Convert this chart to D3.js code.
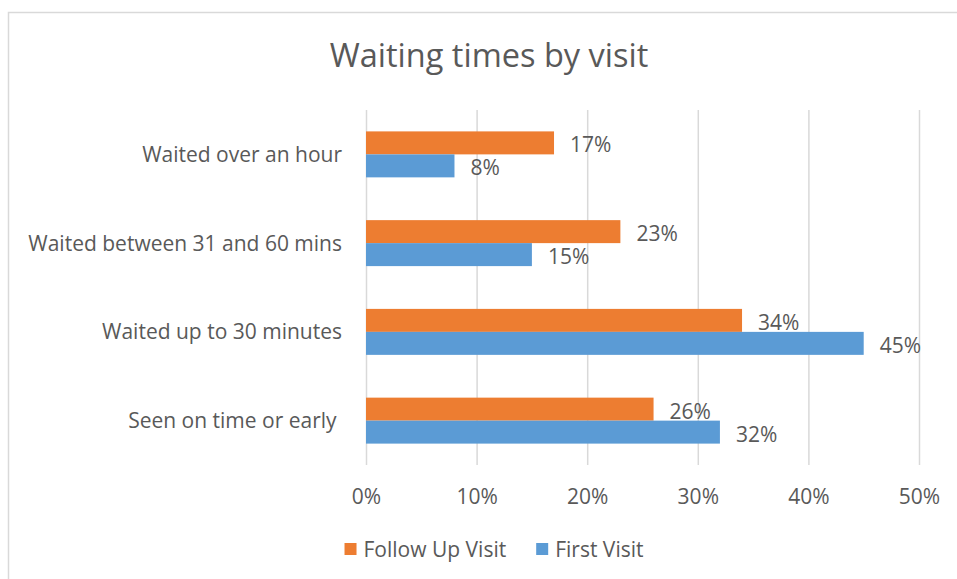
<!DOCTYPE html>
<html lang="en">
<head>
    <meta charset="UTF-8">
    <title>Waiting times by visit</title>
    <script src="https://d3js.org/d3.v7.min.js"></script>
    <style>
        * {
            margin: 0;
            padding: 0;
        }
        body {
            background-color: white;
            font-family: "Open Sans", "Noto Sans", Arial, sans-serif;
        }
        text {
            fill: #595959;
            white-space: pre;
        }
    </style>
</head>
<body>
<svg id="chart" width="957" height="579"></svg>
<script>
// chart data
const categories = [
    'Waited over an hour',
    'Waited between 31 and 60 mins',
    'Waited up to 30 minutes',
    'Seen on time or early '
];
const seriesNames = ['Follow Up Visit', 'First Visit'];
const followUpValues = [0.17, 0.23, 0.34, 0.26];
const firstVisitValues = [0.08, 0.15, 0.45, 0.32];
const tickValues = [0, 0.1, 0.2, 0.3, 0.4, 0.5];

const colors = {
    'Follow Up Visit': '#ED7D31',
    'First Visit': '#5B9BD5'
};
const seriesValues = {
    'Follow Up Visit': followUpValues,
    'First Visit': firstVisitValues
};

const svg = d3.select('#chart');

// chart border (only left and top edges are visible in the frame)
svg.append('rect')
    .attr('x', 8.5)
    .attr('y', 12.5)
    .attr('width', 1200)
    .attr('height', 1000)
    .attr('fill', 'white')
    .attr('stroke', '#d9d9d9')
    .attr('stroke-width', 1.5);

// title
svg.append('text')
    .attr('x', 489)
    .attr('y', 67)
    .attr('text-anchor', 'middle')
    .style('font-size', '32.5px')
    .text('Waiting times by visit');

const plotTop = 110, plotBottom = 465;

const x = d3.scaleLinear()
    .domain([0, 0.5])
    .range([366, 919]);

const y = d3.scaleBand()
    .domain(categories)
    .range([plotTop, plotBottom])
    .paddingInner(0.482)
    .paddingOuter(0.241);

const ySub = d3.scaleBand()
    .domain(seriesNames)
    .range([0, y.bandwidth()]);

// gridlines + tick labels
const xAxis = svg.append('g')
    .attr('transform', `translate(0,${plotBottom})`)
    .call(d3.axisBottom(x)
        .tickValues(tickValues)
        .tickFormat(d3.format('.0%'))
        .tickSize(-(plotBottom - plotTop))
        .tickPadding(24));
xAxis.select('.domain').remove();
xAxis.selectAll('.tick line')
    .attr('stroke', '#d9d9d9')
    .attr('stroke-width', 1.5);
xAxis.selectAll('.tick text')
    .attr('fill', '#595959')
    .style('font-size', '21px')
    .style('font-family', '"Open Sans", "Noto Sans", Arial, sans-serif');

// category labels
svg.append('g')
    .selectAll('text')
    .data(categories)
    .join('text')
    .attr('x', 342)
    .attr('y', d => y(d) + y.bandwidth() / 2)
    .attr('dy', '0.36em')
    .attr('text-anchor', 'end')
    .style('font-size', '21px')
    .text(d => d);

// bars
const barData = [];
categories.forEach((c, i) => {
    seriesNames.forEach(s => {
        barData.push({ category: c, series: s, value: seriesValues[s][i] });
    });
});

svg.append('g')
    .selectAll('rect')
    .data(barData)
    .join('rect')
    .attr('x', x(0))
    .attr('y', d => y(d.category) + ySub(d.series))
    .attr('width', d => x(d.value) - x(0))
    .attr('height', ySub.bandwidth())
    .attr('fill', d => colors[d.series]);

// data labels
svg.append('g')
    .selectAll('text')
    .data(barData)
    .join('text')
    .attr('x', d => x(d.value) + 16)
    .attr('y', d => y(d.category) + ySub(d.series) + ySub.bandwidth() / 2 + 2)
    .attr('dy', '0.36em')
    .style('font-size', '21px')
    .text(d => d3.format('.0%')(d.value));

// legend
const legend = svg.append('g');
const items = legend.selectAll('g')
    .data(seriesNames)
    .join('g');
items.append('rect')
    .attr('width', 12)
    .attr('height', 12)
    .attr('y', -6)
    .attr('fill', d => colors[d]);
items.append('text')
    .attr('x', 19)
    .attr('dy', '0.36em')
    .style('font-size', '21px')
    .text(d => d);

let offset = 0;
items.each(function () {
    const w = this.querySelector('text').getComputedTextLength();
    d3.select(this).attr('transform', `translate(${offset},0)`);
    offset += 19 + w + 30;
});
const legendWidth = offset - 30;
legend.attr('transform', `translate(${494 - legendWidth / 2},549)`);
</script>
</body>
</html>
